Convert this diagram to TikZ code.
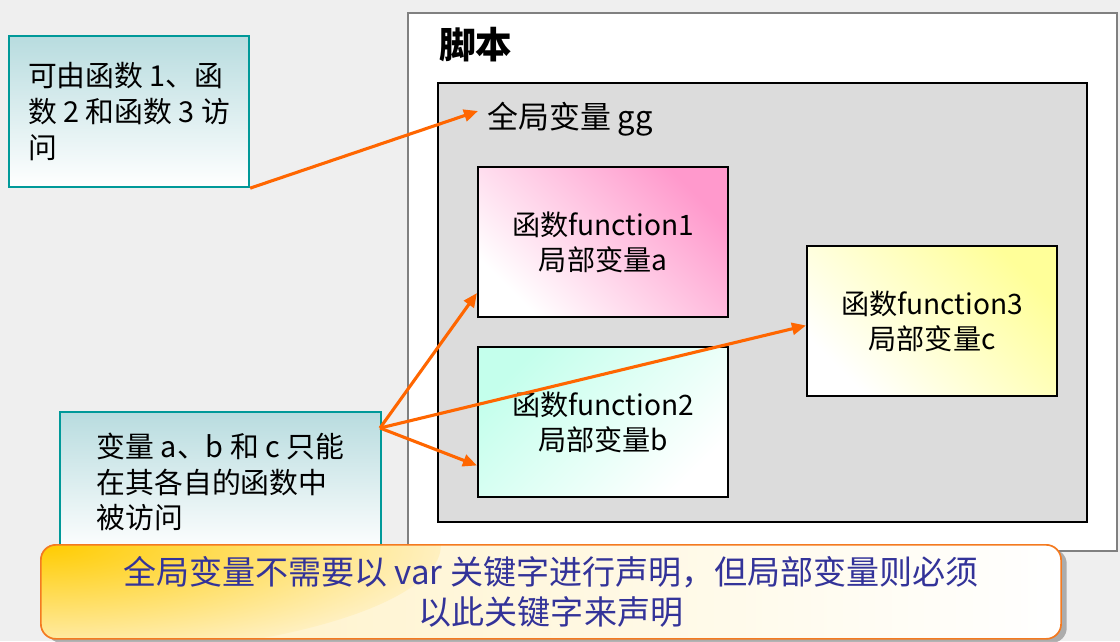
\documentclass[tikz,border=0pt]{standalone}
\usepackage{fontspec}
\setmainfont{Noto Sans CJK SC}
\usetikzlibrary{arrows.meta,shadows}

\definecolor{bgcol}{HTML}{EFEFEF}
\definecolor{boxgray}{HTML}{DCDCDC}
\definecolor{notetop}{HTML}{B8DCDF}
\definecolor{noteborder}{HTML}{009999}
\definecolor{arrowcol}{HTML}{FF6600}
\definecolor{fpink}{HTML}{FF99CC}
\definecolor{faqua}{HTML}{C4FFEC}
\definecolor{fyellow}{HTML}{FFFF99}
\definecolor{tipgold}{HTML}{FFCC00}
\definecolor{tipcream}{HTML}{FFF0C0}
\definecolor{tipborder}{HTML}{F47A20}
\definecolor{tiptext}{HTML}{333399}

\tikzset{
    note/.style={draw=noteborder, line width=1.5pt, top color=notetop, bottom color=white,
        align=left, anchor=north west, font=\fontsize{20.5}{25.5}\selectfont},
    funcbox/.style={draw=black, line width=1.5pt, minimum width=6.25cm, minimum height=3.75cm,
        align=center, anchor=north west, font=\fontsize{20}{25}\selectfont},
    link/.style={draw=arrowcol, line width=2.2pt, -{Triangle[length=10pt,width=8.5pt]}},
    tipbox/.style={draw=tipborder, line width=1.2pt, rounded corners=0.375cm, fill=white,
        path picture={
            \shade[left color=tipcream, right color=white]
                (path picture bounding box.south west) rectangle (path picture bounding box.north east);
            \shade[inner color=tipgold, outer color=tipcream]
                (path picture bounding box.north west) ellipse [x radius=10cm, y radius=2.8cm];
        },
        drop shadow={shadow xshift=0.14cm, shadow yshift=-0.1cm, fill=gray, opacity=0.6}},
}

\begin{document}
\begin{tikzpicture}[x=0.025cm, y=-0.025cm]
    \fill[bgcol] (0, 0) rectangle (1120, 641);
    \useasboundingbox (0, 0) rectangle (1120, 641);

    % script area
    \node[draw=gray, line width=1.5pt, fill=white, minimum width=17.725cm, minimum height=13.45cm,
        anchor=north west] (script) at (407, 12) {};
    \node[anchor=west, inner sep=0, font=\fontsize{26}{30}\selectfont\bfseries] (title) at (439, 45) {脚本};
    \node[draw=black, line width=1.5pt, fill=boxgray, minimum width=16.225cm, minimum height=10.975cm,
        anchor=north west] (global) at (437, 82) {};
    \node[anchor=west, inner sep=0, font=\fontsize{22}{26}\selectfont] (gg) at (487, 119) {全局变量 gg};

    % functions
    \node[funcbox, top color=fpink, bottom color=white, shading angle=-45] (f1) at (477, 166)
        {函数function1\\局部变量a};
    \node[funcbox, top color=faqua, bottom color=white, shading angle=45] (f2) at (477, 346)
        {函数function2\\局部变量b};
    \node[funcbox, top color=fyellow, bottom color=white, shading angle=-45] (f3) at (806, 245)
        {函数function3\\局部变量c};

    % notes
    \node[note, minimum width=6cm, minimum height=3.775cm] (n1) at (8, 35)
        {可由函数 1、函\\数 2 和函数 3 访\\问};
    \node[note, minimum width=8.025cm, minimum height=3.5cm] (n2) at (59, 411)
        {变量 a、b 和 c 只能\\在其各自的函数中\\被访问};

    \coordinate (ggtip) at (478, 111);
    \coordinate (src) at (380, 428);
    \draw[link] (n1.south east) -- (ggtip);
    \draw[link] (src) -- (f1.202);
    \draw[link] (src) -- (f3.182);
    \draw[link] (src) -- (f2.199);

    % remark
    \node[tipbox, minimum width=25.5cm, minimum height=2.35cm, anchor=north west, align=center,
        text=tiptext, font=\fontsize{23.5}{28}\selectfont] (tip) at (40, 544)
        {全局变量不需要以 var 关键字进行声明，但局部变量则必须\\以此关键字来声明};
\end{tikzpicture}
\end{document}
